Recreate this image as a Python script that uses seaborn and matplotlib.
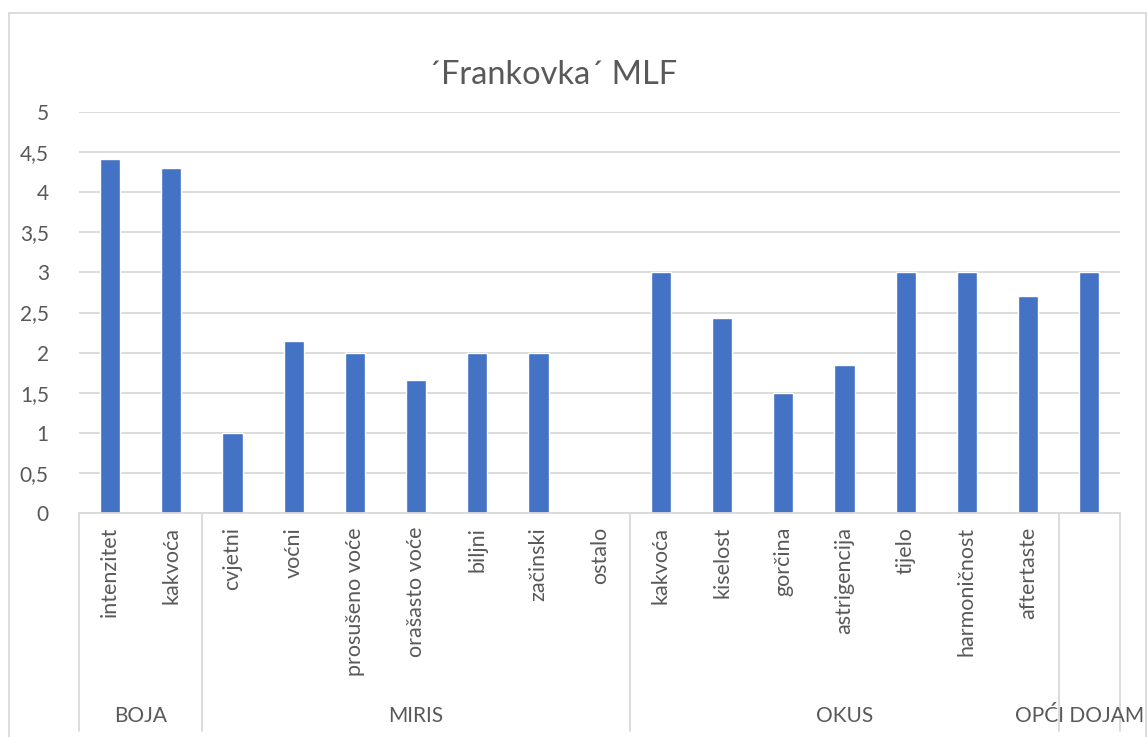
import pandas as pd
import numpy as np
import matplotlib.pyplot as plt
import seaborn as sns
from matplotlib.patches import Rectangle
from matplotlib.ticker import FuncFormatter

# data
groups = ['BOJA', 'BOJA',
          'MIRIS', 'MIRIS', 'MIRIS', 'MIRIS', 'MIRIS', 'MIRIS', 'MIRIS',
          'OKUS', 'OKUS', 'OKUS', 'OKUS', 'OKUS', 'OKUS', 'OKUS',
          'OPĆI DOJAM']
labels = ['intenzitet', 'kakvoća',
          'cvjetni', 'voćni', 'prosušeno voće', 'orašasto voće', 'biljni', 'začinski', 'ostalo',
          'kakvoća', 'kiselost', 'gorčina', 'astrigencija', 'tijelo', 'harmoničnost', 'aftertaste',
          '']
scores = [4.42, 4.30,
          1.0, 2.14, 2.0, 1.66, 2.0, 2.0, 0.0,
          3.0, 2.43, 1.5, 1.85, 3.0, 3.0, 2.71,
          3.0]
group_names = ['BOJA', 'MIRIS', 'OKUS', 'OPĆI DOJAM']

sns.set_theme(style='white')
plt.rcParams['font.family'] = ['Lato', 'DejaVu Sans']

grey = '#595959'
line_grey = '#D9D9D9'

df = pd.DataFrame({'group': groups, 'label': labels, 'score': scores})
df['key'] = [f'{g}|{l}|{i}' for i, (g, l) in enumerate(zip(groups, labels))]

fig = plt.figure(figsize=(11.47, 7.37), dpi=100)
W, H = 1147, 737
ax = fig.add_axes([79.4 / W, (H - 513) / H, (1120 - 79.4) / W, (513 - 112) / H])

sns.barplot(data=df, x='key', y='score', order=df['key'], color='#4472C4',
            width=0.33, saturation=1, ax=ax)

ax.set_ylim(0, 5)
ax.set_xlim(-0.5, len(df) - 0.5)
ax.set_yticks(np.arange(0, 5.01, 0.5))
ax.yaxis.set_major_formatter(FuncFormatter(lambda v, p: f'{v:g}'.replace('.', ',')))
ax.grid(axis='y', color=line_grey, linewidth=1.3)
ax.set_axisbelow(True)
for s in ['top', 'right', 'left']:
    ax.spines[s].set_visible(False)
ax.spines['bottom'].set_color(line_grey)
ax.spines['bottom'].set_linewidth(1.3)
ax.set_xlabel('')
ax.set_ylabel('')
ax.tick_params(axis='y', length=0, pad=22, labelsize=15, labelcolor=grey)
ax.set_xticks(range(len(df)))
ax.set_xticklabels(df['label'], rotation=90, va='top', ha='center')
ax.tick_params(axis='x', length=0, pad=10, labelsize=15.5, labelcolor=grey)

# group separators and group labels under the category labels
bottom = (513 - 731) / (513 - 112)
label_y = (513 - 716) / (513 - 112)
trans = ax.get_xaxis_transform()
edges = [-0.5]
pos = 0
for g in group_names:
    n = groups.count(g)
    start, end = pos - 0.5, pos + n - 0.5
    edges.append(end)
    if g == group_names[-1]:
        # the last group label runs past the chart edge; keep it inside the figure
        fig.text(1144 / W, 1 - 716 / H, g, ha='right', va='center',
                 fontsize=15, color=grey)
    else:
        ax.text((start + end) / 2, label_y, g, transform=trans, ha='center',
                va='center', fontsize=15, color=grey, clip_on=False)
    pos += n
for e in edges:
    ax.plot([e, e], [0, bottom], transform=trans, color=line_grey, linewidth=1.3,
            clip_on=False)

fig.text(553 / W, 1 - 75 / H, '´Frankovka´ MLF', ha='center', va='center',
         fontsize=23.5, color=grey)

# chart border
fig.patches.append(Rectangle((9 / W, -0.01), (1146 - 9) / W, 1.01 - 13 / H,
                             transform=fig.transFigure, fill=False,
                             edgecolor=line_grey, linewidth=1.3))

fig.savefig('out.png', dpi=100)
